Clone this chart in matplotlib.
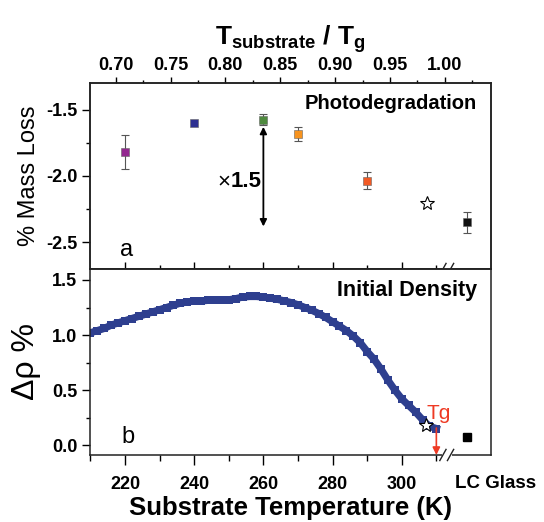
import matplotlib
matplotlib.use('Agg')
import matplotlib.pyplot as plt
from matplotlib.ticker import MultipleLocator, FixedLocator

plt.rcParams['font.family'] = ['Liberation Sans', 'DejaVu Sans']
plt.rcParams['mathtext.fontset'] = 'custom'
plt.rcParams['mathtext.rm'] = 'Liberation Sans'
plt.rcParams['mathtext.bf'] = 'Liberation Sans:bold'

# panel a: photodegradation mass loss vs substrate temperature
photo_T = [220, 240, 260, 270, 290, 319]
photo_loss = [-1.82, -1.60, -1.575, -1.685, -2.035, -2.35]
photo_err = [0.13, 0.0, 0.04, 0.055, 0.063, 0.077]
photo_colors = ['#93278F', '#2E3192', '#4E8A3E', '#F7931E', '#F15A24', '#111111']
star_T = 307.2
star_loss = -2.20

# panel b: initial density increase vs substrate temperature
dens_T = [210, 212, 214, 216, 218, 220, 222, 224, 226, 228, 230, 232, 234, 236, 238,
          240, 242, 244, 246, 248, 250, 252, 254, 256, 258, 260, 262, 264, 266, 268,
          270, 272, 274, 276, 278, 280, 282, 284, 286, 288, 290, 292, 294, 296, 298,
          300, 302, 304, 306, 308, 310]
dens_val = [1.02, 1.04, 1.06, 1.09, 1.11, 1.13, 1.15, 1.17, 1.19, 1.21, 1.23, 1.25, 1.27, 1.29, 1.30,
            1.31, 1.31, 1.315, 1.315, 1.315, 1.32, 1.33, 1.345, 1.35, 1.35, 1.345, 1.335, 1.325, 1.31, 1.295,
            1.275, 1.25, 1.225, 1.195, 1.16, 1.12, 1.08, 1.04, 0.99, 0.93, 0.85, 0.78, 0.69, 0.59, 0.50,
            0.42, 0.36, 0.30, 0.23, 0.17, 0.15]
dens_star_T = 307.1
dens_star_val = 0.18
lc_T = 319
lc_val = 0.075
Tg = 310

top_ticks = [0.70, 0.75, 0.80, 0.85, 0.90, 0.95, 1.00]
bottom_yticks = [0.0, 0.5, 1.0, 1.5]

fig = plt.figure(figsize=(5.44, 5.22), dpi=100)
ax1 = fig.add_axes([0.1662, 0.4847, 0.7364, 0.3563])
ax2 = fig.add_axes([0.1662, 0.1284, 0.7364, 0.3563])

for ax in (ax1, ax2):
    ax.set_xlim(210, 325.8)
    for s in ax.spines.values():
        s.set_linewidth(1.1)
        s.set_color('#222222')

# ---- top panel
for T, v, e, c in zip(photo_T, photo_loss, photo_err, photo_colors):
    if e > 0:
        ax1.errorbar(T, v, yerr=e, fmt='none', ecolor='#555555', elinewidth=0.8, capsize=3, capthick=0.8)
    ax1.plot(T, v, 's', color=c, markersize=6, markeredgewidth=0.4, markeredgecolor='#666666')
ax1.plot(star_T, star_loss, '*', markersize=10, markerfacecolor='white', markeredgecolor='black', markeredgewidth=0.8)
ax1.set_ylim(-2.7, -1.3)
ax1.yaxis.set_major_locator(FixedLocator([-2.5, -2.0, -1.5]))
ax1.yaxis.set_minor_locator(FixedLocator([-2.25, -1.75]))
ax1.xaxis.set_major_locator(FixedLocator([220, 240, 260, 280, 300]))
ax1.xaxis.set_minor_locator(FixedLocator([230, 250, 270, 290, 310]))
ax1.tick_params(axis='x', which='major', direction='inout', length=10, width=1, labelbottom=False)
ax1.tick_params(axis='x', which='minor', direction='inout', length=6, width=1)
ax1.tick_params(axis='y', which='major', direction='out', length=6, width=1, labelsize=13)
ax1.tick_params(axis='y', which='minor', direction='out', length=3, width=1)
ax1.set_yticklabels(['-2.5', '-2.0', '-1.5'], fontweight='bold')
ax1.set_ylabel('% Mass Loss', fontsize=17, labelpad=4)

ax1.annotate('', xy=(260, -2.38), xytext=(260, -1.63),
             arrowprops=dict(arrowstyle='<|-|>', color='black', lw=1.3, mutation_scale=10, shrinkA=0, shrinkB=0))
ax1.text(250.6, -2.045, '×', fontsize=16, ha='right', va='center')
ax1.text(250.6, -2.045, '1.5', fontsize=16, fontweight='bold', ha='left', va='center')
ax1.text(0.965, 0.89, 'Photodegradation', transform=ax1.transAxes, fontsize=14.5, fontweight='bold',
         ha='right', va='center')
ax1.text(220.5, -2.56, 'a', fontsize=17, ha='center', va='center')

# top axis: T_substrate / T_g
ax_top = ax1.twiny()
ax_top.set_xlim(0.677, 1.042)
ax_top.xaxis.set_major_locator(FixedLocator(top_ticks))
ax_top.xaxis.set_minor_locator(MultipleLocator(0.025))
ax_top.tick_params(axis='x', which='major', direction='out', length=4, width=1, labelsize=13, pad=2.5)
ax_top.tick_params(axis='x', which='minor', direction='out', length=2.5, width=1)
ax_top.set_xticklabels(['%.2f' % t for t in top_ticks], fontweight='bold')
for s in ax_top.spines.values():
    s.set_linewidth(1.1)
    s.set_color('#222222')
ax_top.set_xlabel(r'$\mathbf{T_{substrate}}$ / $\mathbf{T_{g}}$', fontsize=19, fontweight='bold', labelpad=9)

# ---- bottom panel
ax2.plot(dens_T, dens_val, '-s', color='#2E3F8F', lw=5.2, markersize=6.2, markeredgewidth=0)
ax2.plot(dens_star_T, dens_star_val, '*', markersize=10, markerfacecolor='white', markeredgecolor='black', markeredgewidth=0.8)
ax2.plot(lc_T, lc_val, 's', color='black', markersize=5.5)
ax2.annotate('', xy=(Tg, -0.09), xytext=(Tg, 0.155),
             arrowprops=dict(arrowstyle='-|>', color='#EE3A24', lw=1.2, mutation_scale=11, shrinkA=0, shrinkB=0))
ax2.text(310.8, 0.29, 'Tg', color='#EE3A24', fontsize=15, ha='center', va='center')
ax2.set_ylim(-0.09, 1.6)
ax2.yaxis.set_major_locator(FixedLocator(bottom_yticks))
ax2.yaxis.set_minor_locator(FixedLocator([0.25, 0.75, 1.25]))
ax2.xaxis.set_major_locator(FixedLocator([220, 240, 260, 280, 300]))
ax2.xaxis.set_minor_locator(FixedLocator([210, 230, 250, 270, 290, 310]))
ax2.tick_params(axis='x', which='major', direction='out', length=7, width=1, labelsize=13, pad=8)
ax2.tick_params(axis='x', which='minor', direction='out', length=4, width=1)
ax2.tick_params(axis='y', which='major', direction='out', length=6, width=1, labelsize=13)
ax2.tick_params(axis='y', which='minor', direction='out', length=3, width=1)
ax2.set_xticklabels(['220', '240', '260', '280', '300'], fontweight='bold')
ax2.set_yticklabels(['%.1f' % t for t in bottom_yticks], fontweight='bold')
ax2.set_ylabel('Δρ %', fontsize=23, labelpad=8)
ax2.set_xlabel('Substrate Temperature (K)', fontsize=18.5, fontweight='bold', labelpad=2)
ax2.text(0.965, 0.885, 'Initial Density', transform=ax2.transAxes, fontsize=15.5, fontweight='bold',
         ha='right', va='center')
ax2.text(221, 0.07, 'b', fontsize=17, ha='center', va='center')
ax2.text(327.2, -0.35, 'LC Glass', fontsize=13.5, fontweight='bold', ha='center', va='center',
         clip_on=False)

# axis break marks on the shared middle spine and the bottom spine
for ax in (ax1, ax2):
    ax.plot([312.05, 313.95], [0, 0], color='white', lw=2.2,
            transform=ax.get_xaxis_transform(), clip_on=False, zorder=5)
    for xb in (311.9, 314.1):
        ax.plot([xb - 0.9, xb + 0.9], [-0.03, 0.03], color='#222222', lw=1.0,
                transform=ax.get_xaxis_transform(), clip_on=False, zorder=6)

fig.savefig('out.png', dpi=100)
